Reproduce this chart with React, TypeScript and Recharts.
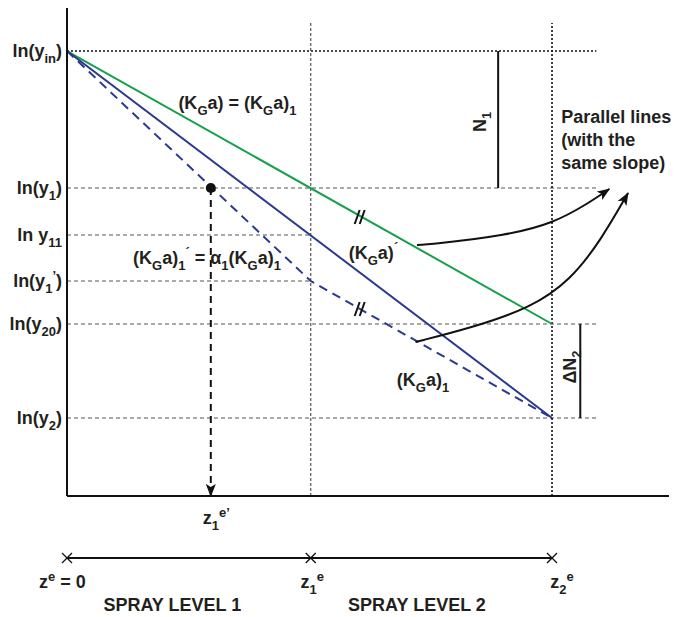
import React from 'react';
import {
  ComposedChart,
  Line,
  XAxis,
  YAxis,
  ReferenceLine,
  ReferenceDot,
  Scatter,
} from 'recharts';

type Kind = 'n' | 'sub' | 'sup';
type Part = [string, Kind];

// Log-concentration levels (ln y)
const LN_Y_IN = 4.45;
const LN_Y1 = 3.08;
const LN_Y11 = 2.61;
const LN_Y1P = 2.15;
const LN_Y20 = 1.72;
const LN_Y2 = 0.78;

// Effective heights along the tower
const Z0 = 0;
const Z1E = 1.0;
const Z2E = 1.99;
const Z1E_PRIME = 0.59;

const yTicks: { value: number; parts: Part[] }[] = [
  { value: LN_Y_IN, parts: [['ln(y', 'n'], ['in', 'sub'], [')', 'n']] },
  { value: LN_Y1, parts: [['ln(y', 'n'], ['1', 'sub'], [')', 'n']] },
  { value: LN_Y11, parts: [['ln y', 'n'], ['11', 'sub']] },
  { value: LN_Y1P, parts: [['ln(y', 'n'], ['1', 'sub'], ['\u2019', 'sup'], [')', 'n']] },
  { value: LN_Y20, parts: [['ln(y', 'n'], ['20', 'sub'], [')', 'n']] },
  { value: LN_Y2, parts: [['ln(y', 'n'], ['2', 'sub'], [')', 'n']] },
];

const xTicks = [Z1E_PRIME];

// Operating lines
const singleLevel = [
  { x: Z0, y: LN_Y_IN },
  { x: Z2E, y: LN_Y20 },
];
const combined = [
  { x: Z0, y: LN_Y_IN },
  { x: Z2E, y: LN_Y2 },
];
const staged = [
  { x: Z0, y: LN_Y_IN },
  { x: Z1E, y: LN_Y1P },
  { x: Z2E, y: LN_Y2 },
];
const dropToAxis = [
  { x: Z1E_PRIME, y: LN_Y1 },
  { x: Z1E_PRIME, y: 0 },
];

// Callout curves pointing at the note
const calloutUpper = [
  { x: 1.436, y: 2.51 },
  { x: 1.534, y: 2.53 },
  { x: 1.781, y: 2.61 },
  { x: 1.987, y: 2.74 },
  { x: 2.131, y: 2.92 },
  { x: 2.225, y: 3.07 },
];
const calloutLower = [
  { x: 1.43, y: 1.54 },
  { x: 1.656, y: 1.68 },
  { x: 1.903, y: 1.88 },
  { x: 2.067, y: 2.16 },
  { x: 2.191, y: 2.56 },
  { x: 2.302, y: 3.03 },
];

// "Parallel" marks on the two parallel segments
const parallelMarks = [
  { x: 1.205, y: 2.79 },
  { x: 1.205, y: 1.87 },
];

const TEXT = '#231f20';
const GREEN = '#17a04c';
const NAVY = '#2b3990';
const FONT = '"Liberation Sans", Arial, Helvetica, sans-serif';
const SIZE = 18;

function Rich({
  x,
  y,
  parts,
  size = SIZE,
  anchor = 'start',
  rotate,
}: {
  x: number;
  y: number;
  parts: Part[];
  size?: number;
  anchor?: 'start' | 'middle' | 'end';
  rotate?: number;
}) {
  const small = Math.round(size * 0.7);
  let level = 0;
  const spans = parts.map(([t, kind], i) => {
    const target = kind === 'sub' ? size * 0.3 : kind === 'sup' ? -size * 0.42 : 0;
    const dy = target - level;
    level = target;
    return (
      <tspan key={i} dy={dy} fontSize={kind === 'n' ? size : small}>
        {t}
      </tspan>
    );
  });
  return (
    <text
      x={x}
      y={y + size * 0.36}
      textAnchor={anchor}
      fontFamily={FONT}
      fontWeight="bold"
      fill={TEXT}
      style={{ whiteSpace: 'pre' }}
      transform={rotate ? `rotate(${rotate} ${x} ${y})` : undefined}
    >
      {spans}
    </text>
  );
}

const YTick = (props: any) => {
  const { x, y, payload } = props;
  const t = yTicks.find((d) => Math.abs(d.value - payload.value) < 1e-9);
  if (!t) return null;
  return <Rich x={x} y={y} parts={t.parts} anchor="end" />;
};

const XTick = (props: any) => {
  const { x, y } = props;
  return (
    <Rich
      x={x - 8}
      y={y + 20}
      parts={[['z', 'n'], ['1', 'sub'], ['e\u2019', 'sup']]}
    />
  );
};

const label = (parts: Part[], opts: { anchor?: 'start' | 'middle' | 'end'; rotate?: number; size?: number } = {}) =>
  (p: any) => <Rich x={p.cx} y={p.cy} parts={parts} {...opts} />;

const crossMark = (p: any) => (
  <g stroke="#111" strokeWidth={1.3}>
    <line x1={p.cx - 5} y1={p.cy - 5} x2={p.cx + 5} y2={p.cy + 5} />
    <line x1={p.cx - 5} y1={p.cy + 5} x2={p.cx + 5} y2={p.cy - 5} />
  </g>
);

const ParallelMark = (p: any) => (
  <g stroke="#111" strokeWidth={2}>
    <line x1={p.cx - 6} y1={p.cy + 7} x2={p.cx - 1} y2={p.cy - 7} />
    <line x1={p.cx - 1} y1={p.cy + 7} x2={p.cx + 4} y2={p.cy - 7} />
  </g>
);

const KGA: Part[] = [['(K', 'n'], ['G', 'sub'], ['a)', 'n']];

export default function App() {
  return (
    <div style={{ position: 'absolute', left: 0, top: 0, width: 677, height: 617, background: '#fff' }}>
      <svg width={0} height={0} style={{ position: 'absolute' }}>
        <defs>
          <marker
            id="arrowHead"
            markerWidth={13}
            markerHeight={10}
            refX={12}
            refY={5}
            orient="auto"
            markerUnits="userSpaceOnUse"
            viewBox="0 0 13 10"
          >
            <path d="M0,0 L13,5 L0,10 L3,5 Z" fill="#111" />
          </marker>
        </defs>
      </svg>
      <ComposedChart
        width={677}
        height={617}
        margin={{ top: 8, right: 8, bottom: 0, left: 0 }}
      >
        <XAxis
          dataKey="x"
          type="number"
          domain={[0, 2.47]}
          allowDataOverflow
          ticks={xTicks}
          tick={<XTick />}
          tickLine={false}
          tickSize={0}
          height={121}
          axisLine={{ stroke: '#111', strokeWidth: 2 }}
        />
        <YAxis
          dataKey="y"
          type="number"
          domain={[0, 4.88]}
          allowDataOverflow
          ticks={yTicks.map((t) => t.value)}
          interval={0}
          tick={<YTick />}
          tickLine={false}
          tickSize={0}
          tickMargin={5}
          width={67}
          axisLine={{ stroke: '#111', strokeWidth: 2 }}
        />

        {/* guide lines */}
        <ReferenceLine segment={[{ x: 0, y: LN_Y_IN }, { x: 2.172, y: LN_Y_IN }]} stroke="#111" strokeWidth={1.6} strokeDasharray="2 2" ifOverflow="visible" />
        <ReferenceLine segment={[{ x: 0, y: LN_Y1 }, { x: 2.172, y: LN_Y1 }]} stroke="#555" strokeDasharray="4 3" ifOverflow="visible" />
        <ReferenceLine segment={[{ x: 0, y: LN_Y11 }, { x: Z1E, y: LN_Y11 }]} stroke="#555" strokeDasharray="4 3" ifOverflow="visible" />
        <ReferenceLine segment={[{ x: 0, y: LN_Y1P }, { x: Z1E, y: LN_Y1P }]} stroke="#555" strokeDasharray="4 3" ifOverflow="visible" />
        <ReferenceLine segment={[{ x: 0, y: LN_Y20 }, { x: 2.172, y: LN_Y20 }]} stroke="#555" strokeDasharray="4 3" ifOverflow="visible" />
        <ReferenceLine segment={[{ x: 0, y: LN_Y2 }, { x: 2.172, y: LN_Y2 }]} stroke="#555" strokeDasharray="4 3" ifOverflow="visible" />
        <ReferenceLine segment={[{ x: Z1E, y: 0 }, { x: Z1E, y: 4.73 }]} stroke="#555" strokeWidth={1.2} strokeDasharray="3 2" ifOverflow="visible" />
        <ReferenceLine segment={[{ x: Z2E, y: 0 }, { x: Z2E, y: 4.73 }]} stroke="#111" strokeWidth={1.6} strokeDasharray="2 2" ifOverflow="visible" />

        {/* N1 and delta N2 brackets */}
        <ReferenceLine segment={[{ x: 1.769, y: LN_Y_IN }, { x: 1.769, y: LN_Y1 }]} stroke="#111" strokeWidth={2} ifOverflow="visible" />
        <ReferenceLine segment={[{ x: 2.106, y: LN_Y20 }, { x: 2.106, y: LN_Y2 }]} stroke="#111" strokeWidth={2} ifOverflow="visible" />

        {/* operating lines */}
        <Line data={singleLevel} dataKey="y" type="linear" stroke={GREEN} strokeWidth={2} dot={false} activeDot={false} isAnimationActive={false} />
        <Line data={combined} dataKey="y" type="linear" stroke={NAVY} strokeWidth={2} dot={false} activeDot={false} isAnimationActive={false} />
        <Line data={staged} dataKey="y" type="linear" stroke={NAVY} strokeWidth={2} strokeDasharray="9 6" dot={false} activeDot={false} isAnimationActive={false} />
        <Line data={dropToAxis} dataKey="y" type="linear" stroke="#111" strokeWidth={2} strokeDasharray="7 5" markerEnd="url(#arrowHead)" dot={false} activeDot={false} isAnimationActive={false} />

        {/* callouts */}
        <Line data={calloutUpper} dataKey="y" type="natural" stroke="#111" strokeWidth={2} markerEnd="url(#arrowHead)" dot={false} activeDot={false} isAnimationActive={false} />
        <Line data={calloutLower} dataKey="y" type="basis" stroke="#111" strokeWidth={2} markerEnd="url(#arrowHead)" dot={false} activeDot={false} isAnimationActive={false} />

        <Scatter data={parallelMarks} dataKey="y" shape={ParallelMark} isAnimationActive={false} />

        <ReferenceDot x={Z1E_PRIME} y={LN_Y1} r={5} fill="#111" stroke="none" ifOverflow="visible" />

        {/* annotations */}
        <ReferenceDot x={0.457} y={3.93} ifOverflow="visible" shape={label([...KGA, [' = ', 'n'], ...KGA, ['1', 'sub']])} />
        <ReferenceDot x={0.271} y={2.38} ifOverflow="visible" shape={label([...KGA, ['1', 'sub'], ['\u00b4', 'sup'], [' = \u03b1', 'n'], ['1', 'sub'], ...KGA, ['1', 'sub']])} />
        <ReferenceDot x={1.156} y={2.43} ifOverflow="visible" shape={label([...KGA, ['\u00b4', 'sup']])} />
        <ReferenceDot x={1.353} y={1.16} ifOverflow="visible" shape={label([...KGA, ['1', 'sub']])} />
        <ReferenceDot x={2.028} y={3.79} ifOverflow="visible" shape={label([['Parallel lines', 'n']])} />
        <ReferenceDot x={2.028} y={3.56} ifOverflow="visible" shape={label([['(with the', 'n']])} />
        <ReferenceDot x={2.028} y={3.33} ifOverflow="visible" shape={label([['same slope)', 'n']])} />
        <ReferenceDot x={1.691} y={3.74} ifOverflow="visible" shape={label([['N', 'n'], ['1', 'sub']], { anchor: 'middle', rotate: -90 })} />
        <ReferenceDot x={2.061} y={1.29} ifOverflow="visible" shape={label([['\u0394N', 'n'], ['2', 'sub']], { anchor: 'middle', rotate: -90 })} />

        {/* spray level scale */}
        <ReferenceLine segment={[{ x: Z0, y: -0.62 }, { x: Z2E, y: -0.62 }]} stroke="#111" strokeWidth={2} ifOverflow="visible" />
        <ReferenceDot x={Z0} y={-0.62} ifOverflow="visible" shape={crossMark} />
        <ReferenceDot x={Z1E} y={-0.62} ifOverflow="visible" shape={crossMark} />
        <ReferenceDot x={Z2E} y={-0.62} ifOverflow="visible" shape={crossMark} />
        <ReferenceDot x={-0.115} y={-0.86} ifOverflow="visible" shape={label([['z', 'n'], ['e', 'sup'], [' = 0', 'n']])} />
        <ReferenceDot x={0.958} y={-0.86} ifOverflow="visible" shape={label([['z', 'n'], ['1', 'sub'], ['e', 'sup']])} />
        <ReferenceDot x={1.983} y={-0.86} ifOverflow="visible" shape={label([['z', 'n'], ['2', 'sub'], ['e', 'sup']])} />
        <ReferenceDot x={0.432} y={-1.09} ifOverflow="visible" shape={label([['SPRAY LEVEL 1', 'n']], { anchor: 'middle' })} />
        <ReferenceDot x={1.436} y={-1.09} ifOverflow="visible" shape={label([['SPRAY LEVEL 2', 'n']], { anchor: 'middle' })} />
      </ComposedChart>
    </div>
  );
}
